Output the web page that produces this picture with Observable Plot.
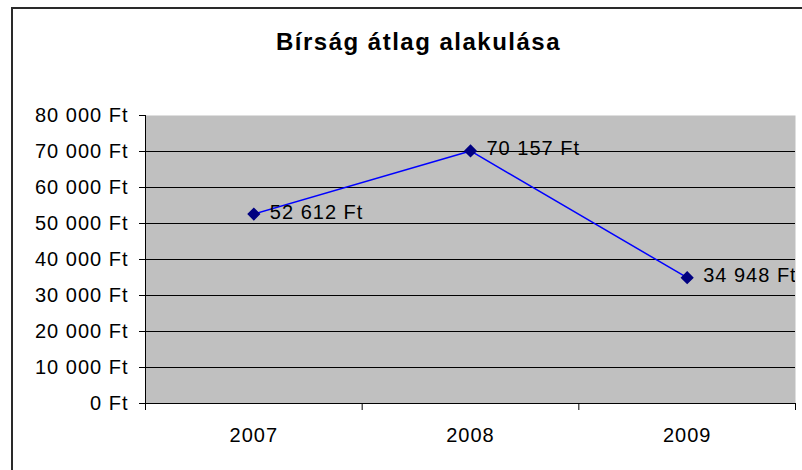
<!DOCTYPE html>
<html>
<head>
<meta charset="utf-8">
<script src="https://cdn.jsdelivr.net/npm/d3@7"></script>
<script src="https://cdn.jsdelivr.net/npm/@observablehq/plot@0.6"></script>
<style>
  html, body { margin: 0; padding: 0; background: white; overflow: hidden; }
  #wrap { position: relative; width: 802px; height: 470px; }
  #border { position: absolute; left: 11px; top: 7px; width: 820px; height: 500px; border: 2px solid #2a2a2a; box-sizing: border-box; pointer-events: none; }
  #chart { position: absolute; left: 0; top: 0; }
</style>
</head>
<body>
<div id="wrap"><div id="chart"></div><div id="border"></div></div>
<script>
const title = "Bírság átlag alakulása";
const years = [2007, 2008, 2009];
const values = [52612, 70157, 34948];
const yTicks = [0, 10000, 20000, 30000, 40000, 50000, 60000, 70000, 80000];
const gridLines = [10000, 20000, 30000, 40000, 50000, 60000, 70000];
const categoryEdges = [2006.5, 2007.5, 2008.5, 2009.5];

const data = years.map((y, i) => ({year: y, value: values[i]}));
const ft = v => d3.format(",")(v).replace(/,/g, " ") + " Ft";

const chart = Plot.plot({
  width: 802,
  height: 470,
  marginLeft: 145,
  marginRight: 7,
  marginTop: 115,
  marginBottom: 67,
  style: {fontFamily: "'Liberation Sans', Arial, sans-serif", fontSize: "20px", background: "white", color: "black", overflow: "visible"},
  x: {domain: [categoryEdges[0], categoryEdges[categoryEdges.length - 1]]},
  y: {domain: [0, 80000]},
  marks: [
    Plot.frame({fill: "#c0c0c0", stroke: null}),
    Plot.ruleY(gridLines, {stroke: "black", strokeWidth: 1}),
    Plot.ruleY([0], {stroke: "black", strokeWidth: 1}),
    Plot.ruleX([categoryEdges[0]], {y1: 0, y2: 80000, stroke: "black"}),
    Plot.axisY({ticks: yTicks, tickFormat: ft, tickSize: 6, tickPadding: 11, label: null}),
    Plot.axisX({ticks: categoryEdges, tickFormat: () => "", tickSize: 7, label: null}),
    Plot.axisX({ticks: years, tickFormat: d => String(d), tickSize: 0, tickPadding: 24, label: null}),
    Plot.line(data, {x: "year", y: "value", stroke: "#0000ff", strokeWidth: 1.5}),
    Plot.dot(data, {x: "year", y: "value", symbol: "diamond2", r: 5, fill: "#000080", stroke: "#000080"}),
    Plot.text(data, {x: "year", y: "value", text: d => ft(d.value), textAnchor: "start", dx: 16, dy: -2, fill: "black", clip: "frame"}),
    Plot.text([title], {frameAnchor: "top", lineAnchor: "top", dx: -52, dy: -83, fontWeight: "bold", fill: "black"})
  ]
});
// enforce font sizes (Excel-like wide spacing)
d3.select(chart).selectAll("text").style("font-size", "20px").style("letter-spacing", "1px");
d3.select(chart).selectAll("text").filter(function() { return this.textContent === title; })
  .style("font-size", "24px").style("letter-spacing", "1.5px");
document.getElementById("chart").appendChild(chart);
</script>
</body>
</html>
